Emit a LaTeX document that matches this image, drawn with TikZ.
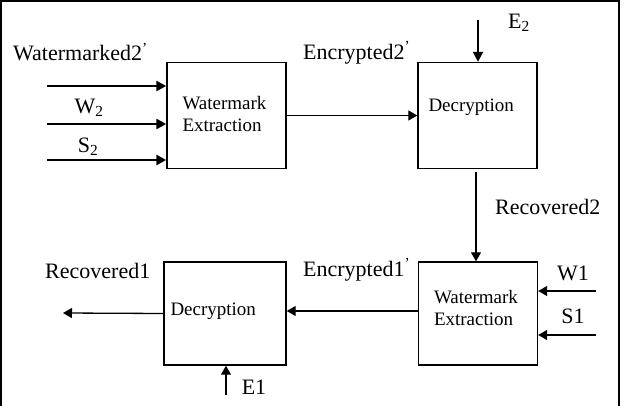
\documentclass[tikz,border=0pt]{standalone}
\usepackage{fontspec}
\setmainfont{Liberation Serif}
\usetikzlibrary{calc,arrows.meta}

\tikzset{
  block/.style={draw,rectangle,line width=1.4pt,minimum width=119pt,minimum height=106pt,inner sep=0pt},
  lbl/.style={font=\fontsize{22}{24}\selectfont,inner sep=0pt},
  blocktxt/.style={font=\fontsize{19}{22}\selectfont,inner sep=0pt,align=left,anchor=west},
  thinarr/.style={-{Triangle[length=9pt,width=10pt]},line width=1.3pt},
  thickarr/.style={-{Triangle[length=10pt,width=10pt]},line width=2.6pt}
}

\begin{document}
\begin{tikzpicture}[x=1pt,y=-1pt]
\useasboundingbox (0,0) rectangle (624,406);
\draw[line width=1.5pt] (1,406) -- (1,1) -- (619,1) -- (619,406);

\draw node [block](wmext) at (226.5,115.5){};
\draw node [block](decr) at (477.5,115.5){};
\draw node [block,minimum height=103pt](wmext1) at (478,313.5){};
\draw node [block,minimum width=122pt,minimum height=103pt](decr1) at (225,313.5){};

\draw node [blocktxt](wmexttxt) at ($ (wmext.west)+(16,-1) $){Watermark\\Extraction};
\draw node [blocktxt](decrtxt) at ($ (decr.west)+(11,-8) $){Decryption};
\draw node [blocktxt](wmext1txt) at ($ (wmext1.west)+(16,-5) $){Watermark\\Extraction};
\draw node [blocktxt](decr1txt) at ($ (decr1.west)+(7,-2) $){Decryption};

% inputs of the first extraction
\coordinate (in1) at (47,86);
\coordinate (in2) at (47,124);
\coordinate (in3) at (47,160);
\draw[thickarr] (in1) -- (in1 -| wmext.west);
\draw[thickarr] (in2) -- (in2 -| wmext.west);
\draw[thickarr] (in3) -- (in3 -| wmext.west);
\draw node [lbl,anchor=west](wmk2) at (13,52){Watermarked2\textsuperscript{’}};
\draw node [lbl](w2) at (89,108){W\textsubscript{2}};
\draw node [lbl](s2) at (88,147){S\textsubscript{2}};

\draw[thinarr] (wmext.east) -- (wmext.east -| decr.west);
\draw node [lbl,anchor=west](enc2) at (303,53){Encrypted2\textsuperscript{’}};

\coordinate (e2in) at (478,20);
\draw[thickarr,line width=2pt] (e2in) -- (e2in |- decr.north);
\draw node [lbl](e2) at (519,23){E\textsubscript{2}};

\coordinate (r2top) at ($ (decr.south)+(-1.5,3) $);
\draw[thinarr] (r2top) -- (r2top |- wmext1.north);
\draw node [lbl,anchor=west](rec2) at (495,207){Recovered2};

% inputs of the second extraction
\coordinate (w1in) at (596,291);
\coordinate (s1in) at (596,335);
\draw[thinarr] (w1in) -- (w1in -| wmext1.east);
\draw[thinarr] (s1in) -- (s1in -| wmext1.east);
\draw node [lbl](w1) at (573,273){W1};
\draw node [lbl](s1) at (573,316){S1};

\coordinate (enc1in) at ($ (wmext1.west)+(0,-2.5) $);
\draw[thinarr] (enc1in) -- (enc1in -| decr1.east);
\draw node [lbl,anchor=west](enc1) at (303,270){Encrypted1\textsuperscript{’}};

\coordinate (recout) at (63,313);
\draw[thinarr] (decr1.west) -- (recout);
\draw node [lbl,anchor=west](rec1) at (45,271){Recovered1};

\coordinate (e1in) at (226,395);
\draw[thinarr] (e1in) -- (e1in |- decr1.south);
\draw node [lbl](e1) at (254,387){E1};
\end{tikzpicture}
\end{document}
